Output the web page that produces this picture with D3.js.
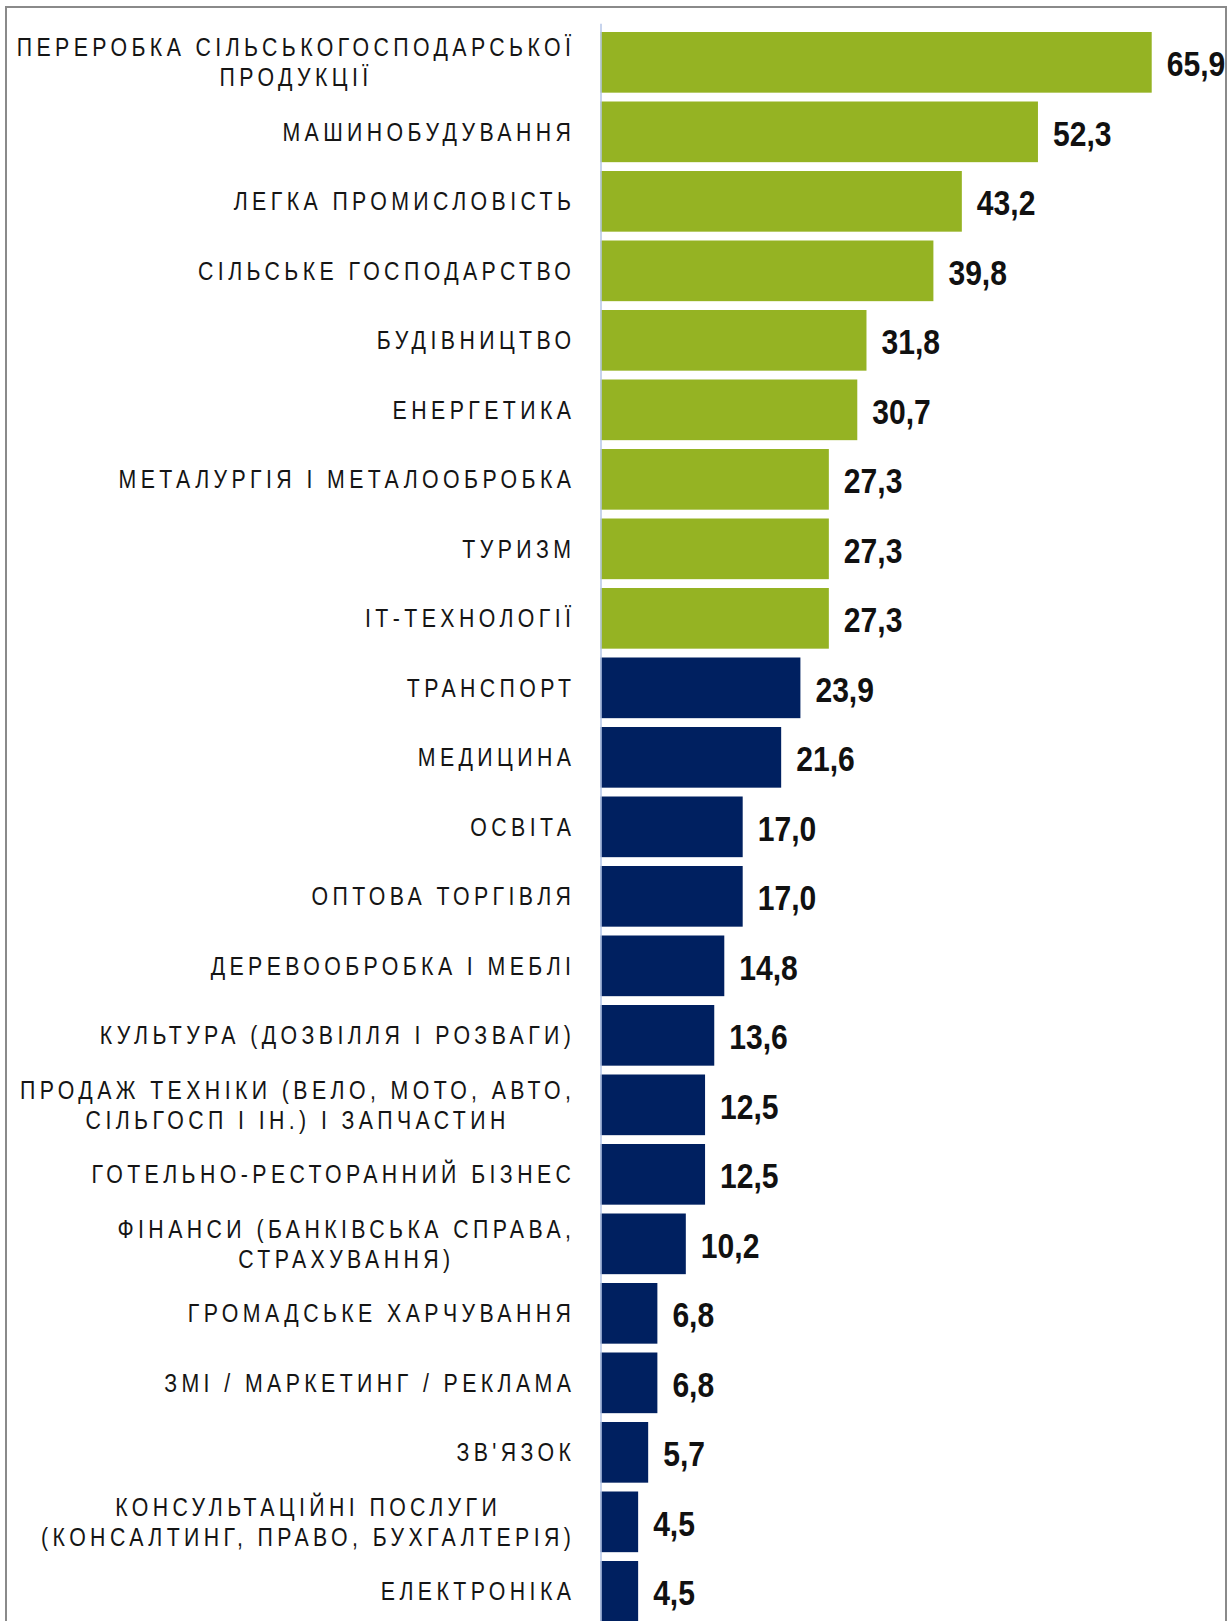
<!DOCTYPE html>
<html>
<head>
<meta charset="utf-8">
<script src="https://cdn.jsdelivr.net/npm/d3@7"></script>
<style>
  html, body { margin: 0; padding: 0; background: #fff; }
  .cat { font-family: "Liberation Sans", Arial, sans-serif; font-size: 26px; fill: #151515; }
  .val { font-family: "Liberation Sans", Arial, sans-serif; font-size: 35px; font-weight: bold; fill: #111; }
</style>
</head>
<body>
<div id="chart"></div>
<script>
// дані
const categories = [
    ['ПЕРЕРОБКА СІЛЬСЬКОГОСПОДАРСЬКОЇ', 'ПРОДУКЦІЇ'],
    ['МАШИНОБУДУВАННЯ'],
    ['ЛЕГКА ПРОМИСЛОВІСТЬ'],
    ['СІЛЬСЬКЕ ГОСПОДАРСТВО'],
    ['БУДІВНИЦТВО'],
    ['ЕНЕРГЕТИКА'],
    ['МЕТАЛУРГІЯ І МЕТАЛООБРОБКА'],
    ['ТУРИЗМ'],
    ['ІТ-ТЕХНОЛОГІЇ'],
    ['ТРАНСПОРТ'],
    ['МЕДИЦИНА'],
    ['ОСВІТА'],
    ['ОПТОВА ТОРГІВЛЯ'],
    ['ДЕРЕВООБРОБКА І МЕБЛІ'],
    ['КУЛЬТУРА (ДОЗВІЛЛЯ І РОЗВАГИ)'],
    ['ПРОДАЖ ТЕХНІКИ (ВЕЛО, МОТО, АВТО,', 'СІЛЬГОСП І ІН.) І ЗАПЧАСТИН'],
    ['ГОТЕЛЬНО-РЕСТОРАННИЙ БІЗНЕС'],
    ['ФІНАНСИ (БАНКІВСЬКА СПРАВА,', 'СТРАХУВАННЯ)'],
    ['ГРОМАДСЬКЕ ХАРЧУВАННЯ'],
    ['ЗМІ / МАРКЕТИНГ / РЕКЛАМА'],
    ["ЗВ'ЯЗОК"],
    ['КОНСУЛЬТАЦІЙНІ ПОСЛУГИ', '(КОНСАЛТИНГ, ПРАВО, БУХГАЛТЕРІЯ)'],
    ['ЕЛЕКТРОНІКА'],
];
const values = [65.9, 52.3, 43.2, 39.8, 31.8, 30.7, 27.3, 27.3, 27.3, 23.9, 21.6, 17.0, 17.0,
    14.8, 13.6, 12.5, 12.5, 10.2, 6.8, 6.8, 5.7, 4.5, 4.5];
const groups = ['top', 'top', 'top', 'top', 'top', 'top', 'top', 'top', 'top',
    'rest', 'rest', 'rest', 'rest', 'rest', 'rest', 'rest', 'rest', 'rest', 'rest', 'rest', 'rest', 'rest', 'rest'];

const data = values.map((v, i) => ({ i: i, lines: categories[i], value: v, group: groups[i] }));

const width = 1229;
const height = 1621;
const axisX = 600.5;
const labelRight = 571;
const sx = 0.82;              // стискання шрифту (narrow)
const letterSpacing = 4.4 / sx;
const lineHeight = 30.3;

const svg = d3.select('div#chart').append('svg').attr('width', width).attr('height', height);

// рамка
svg.append('rect')
    .attr('x', 6).attr('y', 7)
    .attr('width', 1220).attr('height', height + 20)
    .attr('fill', 'none')
    .attr('stroke', '#8a8a8a')
    .attr('stroke-width', 2);

const x = d3.scaleLinear().domain([0, 70]).range([axisX, 1186]);
const pad = 0.127;
const y = d3.scaleBand()
    .domain(data.map(d => d.i))
    .range([32 - 69.5 * pad, 32 - 69.5 * pad + 69.5 * (data.length + pad)])
    .paddingInner(pad).paddingOuter(pad);

const color = d3.scaleOrdinal().domain(['top', 'rest']).range(['#95b323', '#002060']);

const barGroup = svg.append('g').attr('class', 'bars');
barGroup.selectAll('rect').data(data).enter()
    .append('rect')
    .attr('x', x(0))
    .attr('y', d => y(d.i))
    .attr('width', d => x(d.value) - x(0))
    .attr('height', y.bandwidth())
    .attr('fill', d => color(d.group));

// вісь
const yAxisGroup = svg.append('g').attr('class', 'yAxis').attr('transform', `translate(${axisX},0)`);
yAxisGroup.call(d3.axisLeft(y).tickSize(0).tickFormat(''));
yAxisGroup.select('.domain').attr('stroke', '#b4c6e7').attr('stroke-width', 1.5);

// підписи значень
svg.append('g').selectAll('text').data(data).enter()
    .append('text')
    .attr('class', 'val')
    .attr('transform', d => `translate(${x(d.value) + 15},${y(d.i) + y.bandwidth() / 2 + 14}) scale(0.86,1)`)
    .text(d => d3.format('.1f')(d.value).replace('.', ','));

// підписи категорій
const catGroup = svg.append('g');
const measure = svg.append('text').attr('class', 'cat').style('letter-spacing', letterSpacing + 'px');
data.forEach(d => {
    const widths = d.lines.map(l => { measure.text(l); return measure.node().getComputedTextLength(); });
    const maxW = d3.max(widths);
    const cx = labelRight - sx * (maxW / 2 - letterSpacing);
    const cy = y(d.i) + y.bandwidth() / 2;
    const n = d.lines.length;
    const t = catGroup.append('text')
        .attr('class', 'cat')
        .attr('text-anchor', 'middle')
        .attr('transform', `translate(${cx},0) scale(${sx},1)`)
        .style('letter-spacing', letterSpacing + 'px');
    d.lines.forEach((l, k) => {
        t.append('tspan')
            .attr('x', 0)
            .attr('y', cy + (k - (n - 1) / 2) * lineHeight + 9)
            .text(l);
    });
});
measure.remove();
</script>
</body>
</html>
